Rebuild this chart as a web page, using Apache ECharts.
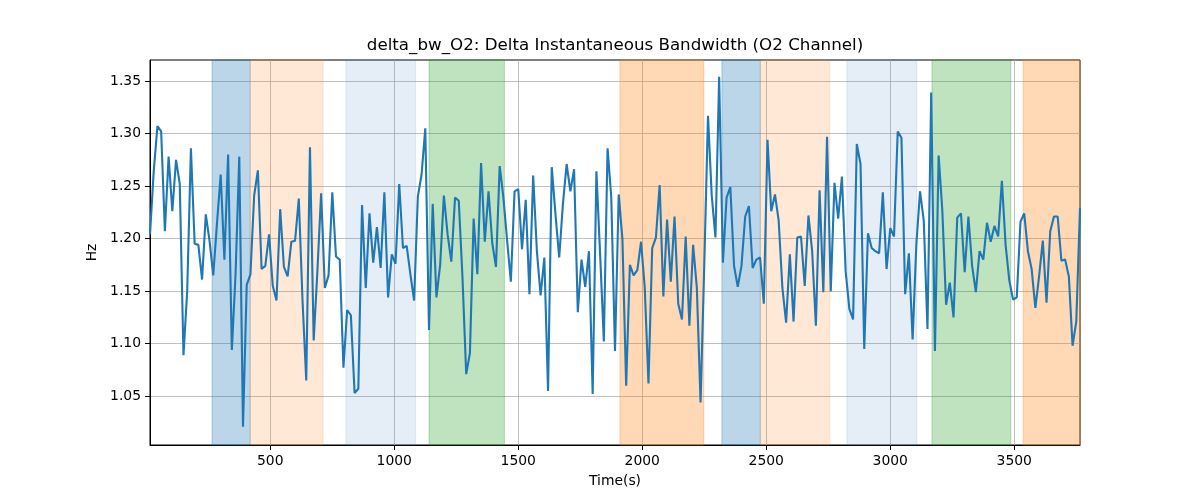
<!DOCTYPE html>
<html>
<head>
<meta charset="utf-8">
<script src="https://cdn.jsdelivr.net/npm/echarts@6/dist/echarts.min.js"></script>
<style>html,body{margin:0;padding:0;background:#fff}#c{width:1200px;height:500px}</style>
</head>
<body>
<div id="c"></div>
<script>
const times = [
15,30,45,60,75,90,105,120,135,150,165,180,195,210,225,240,255,270,285,300,
315,330,345,360,375,390,405,420,435,450,465,480,495,510,525,540,555,570,585,600,
615,630,645,660,675,690,705,720,735,750,765,780,795,810,825,840,855,870,885,900,
915,930,945,960,975,990,1005,1020,1035,1050,1065,1080,1095,1110,1125,1140,1155,1170,1185,1200,
1215,1230,1245,1260,1275,1290,1305,1320,1335,1350,1365,1380,1395,1410,1425,1440,1455,1470,1485,1500,
1515,1530,1545,1560,1575,1590,1605,1620,1635,1650,1665,1680,1695,1710,1725,1740,1755,1770,1785,1800,
1815,1830,1845,1860,1875,1890,1905,1920,1935,1950,1965,1980,1995,2010,2025,2040,2055,2070,2085,2100,
2115,2130,2145,2160,2175,2190,2205,2220,2235,2250,2265,2280,2295,2310,2325,2340,2355,2370,2385,2400,
2415,2430,2445,2460,2475,2490,2505,2520,2535,2550,2565,2580,2595,2610,2625,2640,2655,2670,2685,2700,
2715,2730,2745,2760,2775,2790,2805,2820,2835,2850,2865,2880,2895,2910,2925,2940,2955,2970,2985,3000,
3015,3030,3045,3060,3075,3090,3105,3120,3135,3150,3165,3180,3195,3210,3225,3240,3255,3270,3285,3300,
3315,3330,3345,3360,3375,3390,3405,3420,3435,3450,3465,3480,3495,3510,3525,3540,3555,3570,3585,3600,
3615,3630,3645,3660,3675,3690,3705,3720,3735,3750,3765
];
const deltaBw = [
1.204,1.264,1.307,1.302,1.207,1.278,1.226,1.275,1.252,1.089,
1.150,1.286,1.195,1.194,1.161,1.223,1.198,1.165,1.214,1.261,
1.180,1.280,1.094,1.166,1.278,1.021,1.156,1.166,1.241,1.265,
1.171,1.174,1.204,1.155,1.141,1.228,1.173,1.164,1.197,1.198,
1.238,1.141,1.065,1.287,1.103,1.169,1.243,1.153,1.165,1.244,
1.183,1.180,1.077,1.132,1.127,1.053,1.057,1.232,1.153,1.224,
1.177,1.211,1.172,1.244,1.144,1.185,1.176,1.252,1.191,1.193,
1.166,1.141,1.240,1.261,1.305,1.113,1.233,1.144,1.175,1.241,
1.204,1.178,1.239,1.236,1.163,1.071,1.091,1.219,1.166,1.272,
1.197,1.245,1.196,1.173,1.269,1.239,1.198,1.159,1.245,1.247,
1.190,1.237,1.147,1.260,1.188,1.146,1.182,1.055,1.268,1.223,
1.182,1.233,1.271,1.245,1.266,1.130,1.180,1.154,1.188,1.052,
1.264,1.185,1.102,1.286,1.239,1.093,1.242,1.199,1.060,1.175,
1.165,1.170,1.197,1.153,1.062,1.191,1.201,1.251,1.145,1.218,
1.159,1.221,1.138,1.123,1.202,1.117,1.194,1.153,1.044,1.175,
1.317,1.241,1.201,1.354,1.177,1.239,1.249,1.174,1.154,1.174,
1.221,1.231,1.172,1.180,1.182,1.138,1.294,1.226,1.242,1.217,
1.153,1.120,1.185,1.121,1.201,1.202,1.155,1.222,1.188,1.117,
1.246,1.149,1.297,1.150,1.253,1.219,1.259,1.169,1.133,1.123,
1.290,1.271,1.095,1.205,1.191,1.188,1.186,1.244,1.171,1.210,
1.202,1.302,1.296,1.147,1.186,1.104,1.194,1.245,1.217,1.114,
1.339,1.093,1.279,1.226,1.137,1.158,1.125,1.220,1.224,1.168,
1.221,1.174,1.149,1.188,1.180,1.215,1.197,1.212,1.202,1.255,
1.194,1.160,1.142,1.144,1.216,1.224,1.188,1.171,1.134,1.164,
1.198,1.139,1.207,1.221,1.221,1.179,1.180,1.164,1.098,1.121,
1.229
];
const spanStart = [265, 419, 805, 1140, 1910, 2321, 2476, 2825, 3168, 3536];
const spanEnd   = [419, 713, 1086, 1444, 2248, 2476, 2756, 3107, 3486, 3765];
const spanKind  = ['blue','peach','lightblue','green','orange','blue','peach','lightblue','green','orange'];
const xTicks = [500, 1000, 1500, 2000, 2500, 3000, 3500];
const yTicks = [1.05, 1.10, 1.15, 1.20, 1.25, 1.30, 1.35];

const kindColor = {
  blue: 'rgba(31,119,180,0.3)',
  peach: 'rgba(255,127,14,0.17)',
  lightblue: 'rgba(70,130,200,0.14)',
  green: 'rgba(44,160,44,0.3)',
  orange: 'rgba(255,127,14,0.3)'
};
const lineData = times.map((t, i) => [t, deltaBw[i]]);
const areas = spanStart.map((s, i) => [
  {xAxis: s, itemStyle: {color: kindColor[spanKind[i]], borderColor: kindColor[spanKind[i]], borderWidth: 1}},
  {xAxis: spanEnd[i]}
]);
const font = 'DejaVu Sans';
const chart = echarts.init(document.getElementById('c'), null, {renderer: 'canvas'});
chart.setOption({
  animation: false,
  backgroundColor: '#fff',
  title: {
    text: 'delta_bw_O2: Delta Instantaneous Bandwidth (O2 Channel)',
    left: 615, top: 37, textAlign: 'center', padding: 0,
    textStyle: {fontFamily: font, fontSize: 16.7, fontWeight: 'normal', color: '#000'}
  },
  grid: {left: 150, right: 120, top: 60, bottom: 55, show: true, borderColor: '#000', borderWidth: 1, backgroundColor: 'transparent'},
  xAxis: {
    type: 'value', min: 15, max: 3765,
    name: 'Time(s)', nameLocation: 'middle', nameGap: 29,
    nameTextStyle: {fontFamily: font, fontSize: 13.9, color: '#000'},
    axisLine: {show: true, onZero: false, lineStyle: {color: '#000', width: 1}},
    axisTick: {show: true, length: 5, customValues: xTicks, lineStyle: {color: '#000', width: 1}},
    axisLabel: {customValues: xTicks, margin: 9, fontFamily: font, fontSize: 13.9, color: '#000', formatter: v => String(Math.round(v))},
    splitLine: {show: true, lineStyle: {color: '#b0b0b0', width: 0.8}}
  },
  yAxis: {
    type: 'value', min: 1.0035, max: 1.3700,
    name: 'Hz', nameLocation: 'middle', nameGap: 46, nameRotate: 90,
    nameTextStyle: {fontFamily: font, fontSize: 13.9, color: '#000'},
    axisLine: {show: true, onZero: false, lineStyle: {color: '#000', width: 1}},
    axisTick: {show: true, length: 5, customValues: yTicks, lineStyle: {color: '#000', width: 1}},
    axisLabel: {customValues: yTicks, margin: 9, fontFamily: font, fontSize: 13.9, color: '#000', formatter: v => v.toFixed(2)},
    splitLine: {show: true, lineStyle: {color: '#b0b0b0', width: 0.8}}
  },
  series: [
    {
      type: 'line', z: -1, data: lineData, showSymbol: false, silent: true,
      lineStyle: {opacity: 0, width: 0},
      markArea: {silent: true, data: areas}
    },
    {
      type: 'line', z: 3, data: lineData, showSymbol: false,
      lineStyle: {color: '#1f77b4', width: 2.1}, itemStyle: {color: '#1f77b4'}
    }
  ]
});
</script>
</body>
</html>
